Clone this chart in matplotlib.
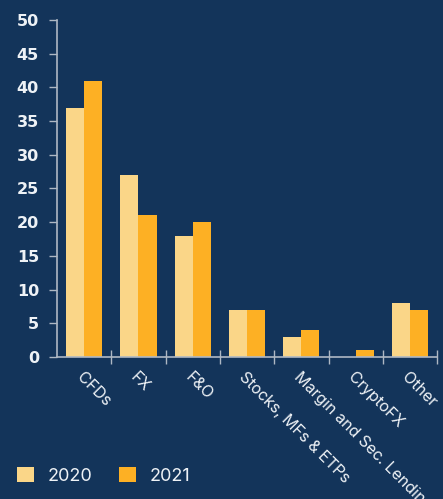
import matplotlib
matplotlib.use("Agg")
import matplotlib.pyplot as plt
import numpy as np

categories = ["CFDs", "FX", "F&O", "Stocks, MFs & ETPs",
              "Margin and Sec. Lending", "CryptoFX", "Other"]
values_2020 = [37, 27, 18, 7, 3, 0, 8]
values_2021 = [41, 21, 20, 7, 4, 1, 7]
y_ticks = list(range(0, 51, 5))

bg = "#13345a"
col_2020 = "#fad688"
col_2021 = "#fdb024"
axis_col = "#aeb8c4"
text_col = "#eef2f6"

plt.rcParams["font.family"] = ["Inter", "DejaVu Sans"]

fig = plt.figure(figsize=(4.43, 4.99), dpi=100, facecolor=bg)
ax = fig.add_axes([0.1287, 0.2846, 0.858, 0.6754])
ax.set_facecolor(bg)

x = np.arange(len(categories))
w = 1 / 3
ax.bar(x - w / 2, values_2020, w, color=col_2020, label="2020", zorder=2)
ax.bar(x + w / 2, values_2021, w, color=col_2021, label="2021", zorder=2)

ax.set_xlim(-0.5, len(categories) - 0.5)
ax.set_ylim(0, 50)
ax.set_yticks(y_ticks, [str(t) for t in y_ticks], family="DejaVu Sans",
              fontweight="bold", fontsize=11.5)

for s in ["top", "right"]:
    ax.spines[s].set_visible(False)
for s in ["left", "bottom"]:
    ax.spines[s].set_color(axis_col)
    ax.spines[s].set_linewidth(1.2)

ax.tick_params(axis="y", colors=axis_col, length=6, width=1, labelcolor=text_col,
               pad=7)

# category labels at centres, tick marks at group boundaries
ax.set_xticks(x)
ax.set_xticklabels(categories, rotation=-45, ha="left", va="top",
                   rotation_mode="anchor", fontsize=11.5, color=text_col)
ax.tick_params(axis="x", which="major", length=0, pad=9)
ax.set_xticks(np.arange(0.5, len(categories), 1), minor=True)
ax.tick_params(axis="x", which="minor", direction="inout", length=10, width=1,
               colors=axis_col)

fig.legend(loc="lower left", bbox_to_anchor=(0.002, -0.004), ncol=2, frameon=False,
           fontsize=13, labelcolor=text_col, handlelength=0.92, handleheight=0.92,
           columnspacing=1.5, handletextpad=0.75)

fig.savefig("out.png", dpi=100, facecolor=bg)
